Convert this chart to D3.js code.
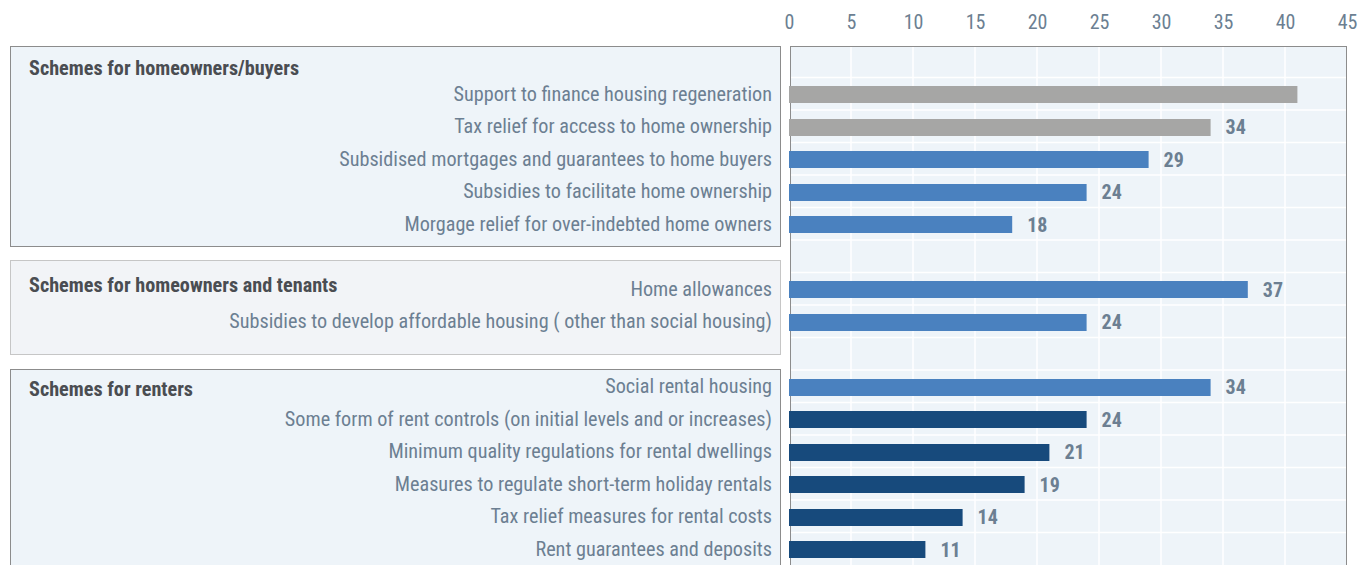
<!DOCTYPE html>
<html>
<head>
<meta charset="utf-8">
<script src="https://cdn.jsdelivr.net/npm/d3@7"></script>
<style>
    body { margin: 0; background: #fff; }
    text { font-family: "Roboto Condensed", Roboto, sans-serif; }
</style>
</head>
<body>
<svg id="chart"></svg>
<script>
var width = 1364;
var height = 565;

// group headings, top to bottom
var groups = [
    "Schemes for homeowners/buyers",
    "Schemes for homeowners and tenants",
    "Schemes for renters"
];

// schemes, top to bottom
var schemes = [
    "Support to finance housing regeneration",
    "Tax relief for access to home ownership",
    "Subsidised mortgages and guarantees to home buyers",
    "Subsidies to facilitate home ownership",
    "Morgage relief for over-indebted home owners",
    "Home allowances",
    "Subsidies to develop affordable housing ( other than social housing)",
    "Social rental housing",
    "Some form of rent controls (on initial levels and or increases)",
    "Minimum quality regulations for rental dwellings",
    "Measures to regulate short-term holiday rentals",
    "Tax relief measures for rental costs",
    "Rent guarantees and deposits"
];

// which group each scheme belongs to
var schemeGroup = [0, 0, 0, 0, 0, 1, 1, 2, 2, 2, 2, 2, 2];

// number of countries
var values = [41, 34, 29, 24, 18, 37, 24, 34, 24, 21, 19, 14, 11];

// bar shade: 0 = grey, 1 = blue, 2 = dark blue
var shade = [0, 0, 1, 1, 1, 1, 1, 1, 2, 2, 2, 2, 2];

// value labels (first one is not shown in the original)
var valueLabels = [null, "34", "29", "24", "18", "37", "24", "34", "24", "21", "19", "14", "11"];

var tickValues = [0, 5, 10, 15, 20, 25, 30, 35, 40, 45];

var colors = ["#a6a6a5", "#4a81bf", "#174a7c"];
var textColor = "#6c7f92";

var svg = d3.select("#chart")
    .attr("width", width)
    .attr("height", height);

// rows: one blank row before each group, then the schemes
var slots = [];
schemes.forEach(function(s, i) {
    if (i === 0 || schemeGroup[i] !== schemeGroup[i - 1]) {
        slots.push("gap" + schemeGroup[i]);
    }
    slots.push(s);
});

var plotTop = 46, plotBottom = 566;
var y = d3.scaleBand()
    .domain(slots)
    .range([plotTop, plotBottom]);

var x = d3.scaleLinear()
    .domain([0, 45])
    .range([789, 789 + 12.4 * 45]);

var panelLeft = 790, panelRight = 1346;

// left boxes behind the labels
var boxStyle = [
    { fill: "#eef4f9", stroke: "#8c8c8c", padTop: 0, padBottom: 5, head: 22 },
    { fill: "#f2f4f7", stroke: "#c6c6c6", padTop: 13.5, padBottom: 15, head: 25 },
    { fill: "#eef4f9", stroke: "#8c8c8c", padTop: 2, padBottom: 0, head: 20 }
];

groups.forEach(function(g, gi) {
    var rows = schemes.filter(function(s, i) { return schemeGroup[i] === gi; });
    var st = boxStyle[gi];
    var y0 = gi === 0 ? plotTop : y(rows[0]) - st.padTop;
    var y1 = gi === groups.length - 1 ? plotBottom + 2 : y(rows[rows.length - 1]) + y.bandwidth() + st.padBottom;

    svg.append("rect")
        .attr("x", 10.5)
        .attr("y", Math.round(y0) + 0.5)
        .attr("width", 770)
        .attr("height", Math.round(y1 - y0))
        .attr("fill", st.fill)
        .attr("stroke", st.stroke)
        .attr("stroke-width", 1);

    svg.append("text")
        .attr("x", 29)
        .attr("y", y0 + st.head)
        .attr("dy", "0.35em")
        .style("font-size", "20.2px")
        .style("font-weight", "bold")
        .style("fill", "#4a4d52")
        .text(g);
});

// plot panel
svg.append("rect")
    .attr("x", panelLeft + 0.5)
    .attr("y", plotTop + 0.5)
    .attr("width", panelRight - panelLeft)
    .attr("height", plotBottom - plotTop + 2)
    .attr("fill", "#eef4f9")
    .attr("stroke", "#8c8c8c");

// white grid
svg.append("g")
    .selectAll("line")
    .data(tickValues.slice(1, -1))
    .enter().append("line")
    .attr("x1", function(d) { return x(d); })
    .attr("x2", function(d) { return x(d); })
    .attr("y1", plotTop + 1)
    .attr("y2", plotBottom)
    .attr("stroke", "#ffffff")
    .attr("stroke-width", 1.5);

svg.append("g")
    .selectAll("line")
    .data(slots.slice(1))
    .enter().append("line")
    .attr("x1", panelLeft + 1)
    .attr("x2", panelRight)
    .attr("y1", function(d) { return y(d) - 1; })
    .attr("y2", function(d) { return y(d) - 1; })
    .attr("stroke", "#ffffff")
    .attr("stroke-width", 1.5);

// top axis
var axis = svg.append("g")
    .attr("transform", "translate(0,29)")
    .call(d3.axisTop(x).tickValues(tickValues).tickSize(0).tickPadding(0));
axis.select(".domain").remove();
axis.selectAll("text")
    .style("font-family", "'Roboto Condensed', Roboto, sans-serif")
    .style("font-size", "20px")
    .style("fill", textColor);

// bars
var barH = 17;
svg.append("g")
    .selectAll("rect")
    .data(schemes)
    .enter().append("rect")
    .attr("x", x(0))
    .attr("y", function(d) { return Math.round(y(d) + y.bandwidth() / 2 - barH / 2); })
    .attr("width", function(d, i) { return x(values[i]) - x(0); })
    .attr("height", barH)
    .attr("fill", function(d, i) { return colors[shade[i]]; });

// value labels
svg.append("g")
    .selectAll("text")
    .data(schemes)
    .enter().append("text")
    .attr("x", function(d, i) { return x(values[i]) + 15; })
    .attr("y", function(d) { return y(d) + y.bandwidth() / 2; })
    .attr("dy", "0.35em")
    .style("font-size", "20px")
    .style("font-weight", "bold")
    .style("fill", textColor)
    .text(function(d, i) { return valueLabels[i]; });

// scheme labels
svg.append("g")
    .selectAll("text")
    .data(schemes)
    .enter().append("text")
    .attr("x", 772)
    .attr("y", function(d) { return y(d) + y.bandwidth() / 2 - 1; })
    .attr("dy", "0.35em")
    .attr("text-anchor", "end")
    .style("font-size", "20.2px")
    .style("fill", textColor)
    .text(function(d) { return d; });
</script>
</body>
</html>
